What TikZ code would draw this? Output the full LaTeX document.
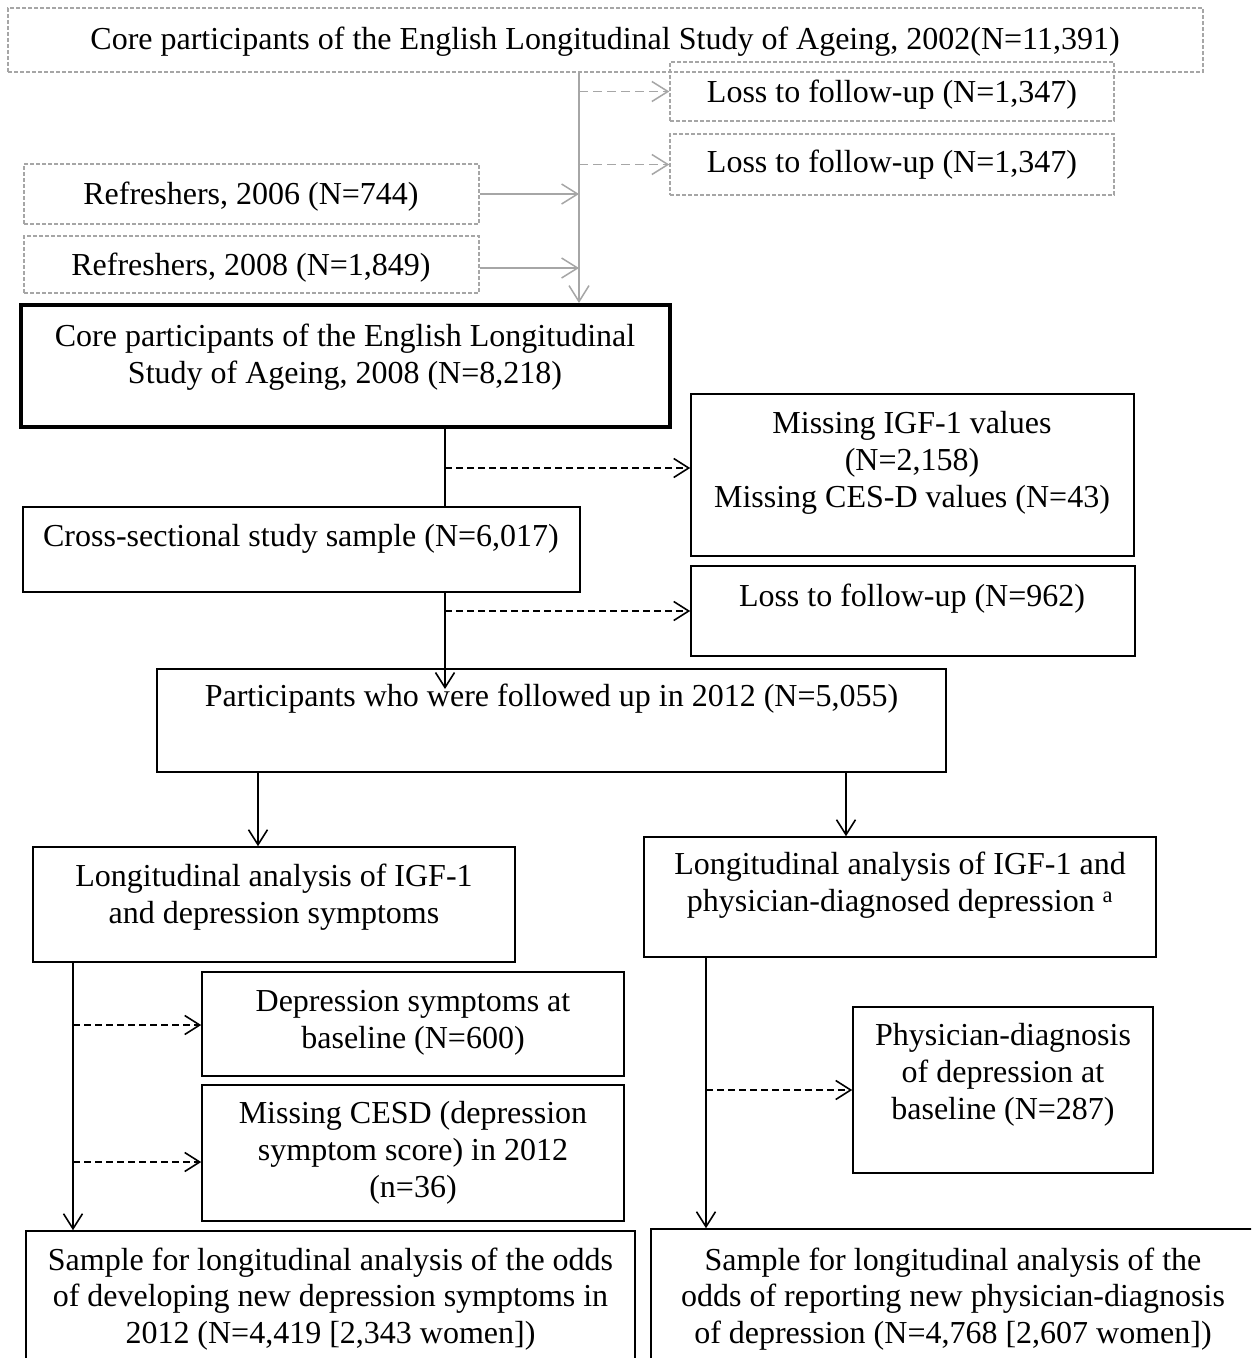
\documentclass[tikz,border=0pt]{standalone}
\usepackage{fontspec}
\setmainfont{Liberation Serif}
\usetikzlibrary{arrows.meta,fit}
\definecolor{gcol}{RGB}{166,166,166}
\newcommand\sst{\rule[-0.18em]{0pt}{0.98em}}
\tikzset{
  box/.style={draw, rectangle, inner sep=0pt, line width=1.6pt},
  thickbox/.style={box, line width=3.4pt},
  gbox/.style={draw=gcol, rectangle, inner sep=0pt, line width=1.4pt, dash pattern=on 4pt off 2pt},
  txt/.style={align=center, inner sep=0pt, font=\fontsize{32}{36.8}\selectfont},
  conn/.style={line width=1.6pt},
  arr/.style={conn, -{Straight Barb[length=15pt,width=19pt]}},
  darr/.style={arr, dash pattern=on 7pt off 4pt},
  gconn/.style={draw=gcol, line width=1.5pt},
  garr/.style={gconn, -{Straight Barb[length=16pt,width=20pt]}},
  gdarr/.style={garr, dash pattern=on 9pt off 5pt},
}
\begin{document}
\begin{tikzpicture}[x=1pt,y=-1pt]
\useasboundingbox (0,0) rectangle (1251,1358);
\clip (0,0) rectangle (1251,1358);
\fill[white] (0,0) rectangle (1251,1358);

% ---- gray upper part
\node[gbox, fit={(8,8) (1203,72)}] (top) {};
\node[txt] (top-t) at (605,40) {\sst Core participants of the English Longitudinal Study of Ageing, 2002(N=11,391)};
\node[gbox, fit={(670,62) (1114,121)}] (loss1) {};
\node[txt] (loss1-t) at (892,93) {\sst Loss to follow-up (N=1,347)};
\node[gbox, fit={(670,134) (1114,195)}] (loss2) {};
\node[txt] (loss2-t) at (892,163) {\sst Loss to follow-up (N=1,347)};
\node[gbox, fit={(24,164) (479,224)}] (ref06) {};
\node[txt] (ref06-t) at (251,195) {\sst Refreshers, 2006 (N=744)};
\node[gbox, fit={(24,236) (479,293)}] (ref08) {};
\node[txt] (ref08-t) at (251,266) {\sst Refreshers, 2008 (N=1,849)};

% ---- black boxes
\node[thickbox, fit={(21,305) (670,427)}] (b2008) {};
\node[txt] (b2008-t) at (345,355.5) {\sst Core participants of the English Longitudinal\\\sst Study of Ageing, 2008 (N=8,218)};
\node[box, fit={(691,394) (1134,556)}] (igf) {};
\node[txt] (igf-t) at (912,461) {\sst Missing IGF-1 values\\\sst (N=2,158)\\\sst Missing CES-D values (N=43)};
\node[box, fit={(23,507) (580,592)}] (cross) {};
\node[txt] (cross-t) at (301,537) {\sst Cross-sectional study sample (N=6,017)};
\node[box, fit={(691,566) (1135,656)}] (loss962) {};
\node[txt] (loss962-t) at (912,597) {\sst Loss to follow-up (N=962)};
\node[box, fit={(157,669) (946,772)}] (p2012) {};
\node[txt] (p2012-t) at (551.5,697) {\sst Participants who were followed up in 2012 (N=5,055)};
\node[box, fit={(33,847) (515,962)}] (longL) {};
\node[txt] (longL-t) at (274,895.5) {\sst Longitudinal analysis of IGF-1\\\sst and depression symptoms};
\node[box, fit={(644,837) (1156,957)}] (longR) {};
\node[txt] (longR-t) at (900,883.5) {\sst Longitudinal analysis of IGF-1 and\\\sst physician-diagnosed depression \textsuperscript{a}};
\node[box, fit={(202,972) (624,1076)}] (dep) {};
\node[txt] (dep-t) at (413,1020.5) {\sst Depression symptoms at\\\sst baseline (N=600)};
\node[box, fit={(202,1085) (624,1221)}] (cesd) {};
\node[txt] (cesd-t) at (413,1151) {\sst Missing CESD (depression\\\sst symptom score) in 2012\\\sst (n=36)};
\node[box, fit={(853,1007) (1153,1173)}] (phys) {};
\node[txt] (phys-t) at (1003,1073.3) {\sst Physician-diagnosis\\\sst of depression at\\\sst baseline (N=287)};
\node[box, fit={(26,1231) (635,1400)}] (botL) {};
\node[txt] (botL-t) at (330.5,1297.5) {\sst Sample for longitudinal analysis of the odds\\\sst of developing new depression symptoms in\\\sst 2012 (N=4,419 [2,343 women])};
\node[box, fit={(651,1229) (1256,1400)}] (botR) {};
\node[txt] (botR-t) at (953,1297.5) {\sst Sample for longitudinal analysis of the\\\sst odds of reporting new physician-diagnosis\\\sst of depression (N=4,768 [2,607 women])};

% ---- helper coordinates
\coordinate (gx) at (579,0);
\coordinate (gtip) at (579,303);
\coordinate (cx) at (445,0);
\coordinate (y468) at (0,468);
\coordinate (ctip) at (445,689);
\coordinate (lx) at (258,0);
\coordinate (rx) at (846,0);
\coordinate (llx) at (73,0);
\coordinate (rrx) at (706,0);
\coordinate (y1025) at (0,1025);
\coordinate (y1162) at (0,1162);
\coordinate (y267) at (0,268);

% ---- gray connectors
\draw[garr] (top.south -| gx) -- (gtip);
\draw[gdarr] (gx |- loss1.west) -- (loss1.west);
\draw[gdarr] (gx |- loss2.west) -- (loss2.west);
\draw[garr] (ref06.east) -- (ref06.east -| gx);
\draw[garr] (ref08.east |- y267) -- (gx |- y267);

% ---- black connectors
\draw[conn] (b2008.south -| cx) -- (cross.north -| cx);
\draw[darr] (cx |- y468) -- (igf.west |- y468);
\draw[arr] (cross.south -| cx) -- (ctip);
\draw[darr] (cx |- loss962.west) -- (loss962.west);
\draw[arr] (p2012.south -| lx) -- (longL.north -| lx);
\draw[arr] (p2012.south -| rx) -- (longR.north -| rx);
\draw[arr] (longL.south -| llx) -- (botL.north -| llx);
\draw[darr] (llx |- y1025) -- (dep.west |- y1025);
\draw[darr] (llx |- y1162) -- (cesd.west |- y1162);
\draw[arr] (longR.south -| rrx) -- (botR.north -| rrx);
\draw[darr] (rrx |- phys.west) -- (phys.west);
\end{tikzpicture}
\end{document}
